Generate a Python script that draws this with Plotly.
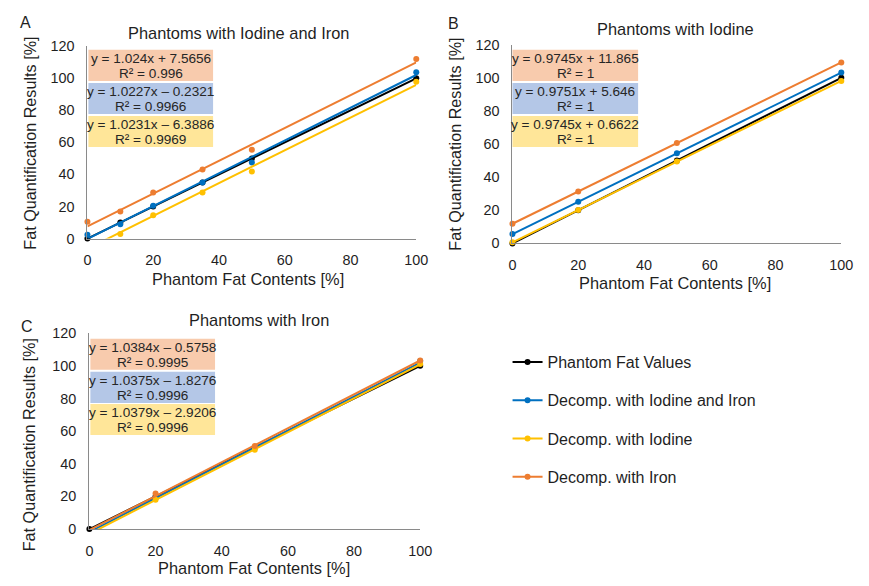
import numpy as np
import plotly.graph_objects as go

W, H = 869, 586
FONT = "Liberation Sans, Arial, sans-serif"
TXT = "#1f1f1f"

series_names = ["Phantom Fat Values", "Decomp. with Iodine and Iron", "Decomp. with Iodine", "Decomp. with Iron"]
series_colors = ["#000000", "#0070C0", "#FFC000", "#ED7D31"]

x_ticks = [0, 20, 40, 60, 80, 100]
y_ticks = [0, 20, 40, 60, 80, 100, 120]

# ---- Panel A: Phantoms with Iodine and Iron
a_x = [0, 10, 20, 35, 50, 100]
a_phantom = [0, 10, 20, 35, 50, 100]
a_iod_iron = [2.4, 8.9, 20.4, 35.0, 47.5, 103.8]
a_iodine = [-3.6, 2.8, 14.5, 28.7, 41.8, 97.8]
a_iron = [10.5, 16.8, 28.7, 43.0, 55.4, 112.1]
a_slope = [1.0, 1.0227, 1.0231, 1.024]
a_intercept = [0.0, -0.2321, -6.3886, 7.5656]
a_eq = ["y = 1.024x + 7.5656", "y = 1.0227x – 0.2321", "y = 1.0231x – 6.3886"]
a_r2 = ["R² = 0.996", "R² = 0.9966", "R² = 0.9969"]

# ---- Panel B: Phantoms with Iodine
b_x = [0, 20, 50, 100]
b_phantom = [0, 20, 50, 100]
b_iod_iron = [5.6, 25.2, 54.4, 103.2]
b_iodine = [0.7, 20.1, 49.4, 98.1]
b_iron = [11.9, 31.4, 60.6, 109.3]
b_slope = [1.0, 0.9751, 0.9745, 0.9745]
b_intercept = [0.0, 5.646, 0.6622, 11.865]
b_eq = ["y = 0.9745x + 11.865", "y = 0.9751x + 5.646", "y = 0.9745x + 0.6622"]
b_r2 = ["R² = 1", "R² = 1", "R² = 1"]

# ---- Panel C: Phantoms with Iron
c_x = [0, 20, 50, 100]
c_phantom = [0, 20, 50, 100]
c_iod_iron = [-1.8, 19.0, 50.0, 102.9]
c_iodine = [-2.9, 18.0, 48.6, 101.1]
c_iron = [-1.6, 21.8, 50.9, 103.2]
c_slope = [1.0, 1.0375, 1.0379, 1.0384]
c_intercept = [0.0, -1.8276, -2.9206, -0.5758]
c_eq = ["y = 1.0384x – 0.5758", "y = 1.0375x – 1.8276", "y = 1.0379x – 2.9206"]
c_r2 = ["R² = 0.9995", "R² = 0.9996", "R² = 0.9996"]

panel_titles = ["Phantoms with Iodine and Iron", "Phantoms with Iodine", "Phantoms with Iron"]
panel_letters = ["A", "B", "C"]
x_title = "Phantom Fat Contents [%]"
y_title = "Fat Quantification Results [%]"
box_colors = ["#F8CBAD", "#B4C7E7", "#FFE699"]


def fx(p):
    return p / W


def fy(p):
    return 1 - p / H


panels = [
    dict(x=a_x, ys=[a_phantom, a_iod_iron, a_iodine, a_iron], s=a_slope, b=a_intercept, xa="x", ya="y",
         eq=a_eq, r2=a_r2, dom_x=(85, 420), dom_y=(237, 39.3), box=(86, 213, [43, 77, 111]),
         title=(239, 26), letter=(22, 15), xt=(249, 279), yt=(27, 139)),
    dict(x=b_x, ys=[b_phantom, b_iod_iron, b_iodine, b_iron], s=b_slope, b=b_intercept, xa="x2", ya="y2",
         eq=b_eq, r2=b_r2, dom_x=(518, 853), dom_y=(242, 37.7), box=(518, 646, [43, 77, 111]),
         title=(684, 22), letter=(458, 16), xt=(684, 283), yt=(460, 140)),
    dict(x=c_x, ys=[c_phantom, c_iod_iron, c_iodine, c_iron], s=c_slope, b=c_intercept, xa="x3", ya="y3",
         eq=c_eq, r2=c_r2, dom_x=(87, 424), dom_y=(535.7, 334.3), box=(88, 215, [340, 374, 407]),
         title=(260, 321), letter=(23, 327), xt=(255, 576), yt=(25, 449)),
]

fig = go.Figure()

for p in panels:
    x = np.array(p["x"], dtype=float)
    for i in range(4):
        col = series_colors[i]
        y = np.array(p["ys"][i], dtype=float)
        xl = np.array([x.min(), x.max()])
        yl = p["s"][i] * xl + p["b"][i]
        fig.add_trace(go.Scatter(x=xl, y=yl, mode="lines", line=dict(color=col, width=2),
                                 xaxis=p["xa"], yaxis=p["ya"], showlegend=False, hoverinfo="skip"))
        ys = [float(v) if v >= 0 else None for v in y]
        fig.add_trace(go.Scatter(x=x, y=ys, mode="markers", marker=dict(color=col, size=6),
                                 cliponaxis=False, xaxis=p["xa"], yaxis=p["ya"], showlegend=False))

# legend entries
for i in range(4):
    fig.add_trace(go.Scatter(x=[None], y=[None], mode="lines+markers", name=series_names[i],
                             legendgroup=series_names[i],
                             line=dict(color=series_colors[i], width=2),
                             marker=dict(color=series_colors[i], size=6), xaxis="x", yaxis="y"))

annotations = []
shapes = []
layout_axes = {}
for k, p in enumerate(panels):
    suffix = "" if k == 0 else str(k + 1)
    layout_axes["xaxis" + suffix] = dict(
        domain=[fx(p["dom_x"][0]), fx(p["dom_x"][1])], anchor="y" + suffix, range=[0, 100],
        tickvals=x_ticks, showline=True, linecolor="#8a8a8a", linewidth=1.3, showgrid=False,
        zeroline=False, ticks="outside", ticklen=8, tickcolor="rgba(0,0,0,0)",
        tickfont=dict(size=14.4, color=TXT, family=FONT), fixedrange=True)
    layout_axes["yaxis" + suffix] = dict(
        domain=[fy(p["dom_y"][0]), fy(p["dom_y"][1])], anchor="x" + suffix, range=[0, 120],
        tickvals=y_ticks, showline=True, linecolor="#8a8a8a", linewidth=1.3, showgrid=False,
        zeroline=False, ticks="outside", ticklen=9, tickcolor="rgba(0,0,0,0)",
        tickfont=dict(size=14.4, color=TXT, family=FONT), fixedrange=True)

    annotations.append(dict(text=panel_titles[k], x=fx(p["title"][0]), y=fy(p["title"][1]), xref="paper",
                            yref="paper", showarrow=False, xanchor="center", yanchor="middle",
                            font=dict(size=16.4, color=TXT, family=FONT)))
    annotations.append(dict(text=panel_letters[k], x=fx(p["letter"][0]), y=fy(p["letter"][1]), xref="paper",
                            yref="paper", showarrow=False, xanchor="center", yanchor="middle",
                            font=dict(size=16, color=TXT, family=FONT)))
    annotations.append(dict(text=x_title, x=fx(p["xt"][0]), y=fy(p["xt"][1]), xref="paper",
                            yref="paper", showarrow=False, xanchor="center", yanchor="middle",
                            font=dict(size=16.4, color=TXT, family=FONT)))
    annotations.append(dict(text=y_title, x=fx(p["yt"][0]), y=fy(p["yt"][1]), xref="paper",
                            yref="paper", showarrow=False, xanchor="center", yanchor="middle",
                            textangle=-90, font=dict(size=16.2, color=TXT, family=FONT)))

    left, right, tops = p["box"]
    for j in range(3):
        t = tops[j]
        shapes.append(dict(type="rect", xref="paper", yref="paper", x0=fx(left), x1=fx(right),
                           y0=fy(t + 32), y1=fy(t), fillcolor=box_colors[j], line=dict(width=0),
                           layer="above"))
        cx = fx((left + right) / 2)
        annotations.append(dict(text=p["eq"][j], x=cx, y=fy(t + 9), xref="paper", yref="paper",
                                showarrow=False, xanchor="center", yanchor="middle",
                                font=dict(size=13.6, color="#262626", family=FONT)))
        annotations.append(dict(text=p["r2"][j], x=cx, y=fy(t + 24), xref="paper", yref="paper",
                                showarrow=False, xanchor="center", yanchor="middle",
                                font=dict(size=13.6, color="#262626", family=FONT)))

fig.update_layout(
    autosize=True, margin=dict(l=0, r=0, t=0, b=0),
    paper_bgcolor="white", plot_bgcolor="white",
    font=dict(family=FONT, color=TXT),
    showlegend=True,
    legend=dict(x=fx(513), y=fy(346.5), xanchor="left", yanchor="top", traceorder="grouped",
                tracegroupgap=14.5, font=dict(size=16, color=TXT, family=FONT),
                bgcolor="rgba(0,0,0,0)"),
    annotations=annotations, shapes=shapes, **layout_axes)

# The plot div is pinned to the page's top-left corner so that it fills the 869x586 window exactly.
fig.write_html("out.html",
               default_width=f"{W}px;position:absolute;left:0;top:0",
               default_height=f"{H}px",
               config={"displayModeBar": False})
